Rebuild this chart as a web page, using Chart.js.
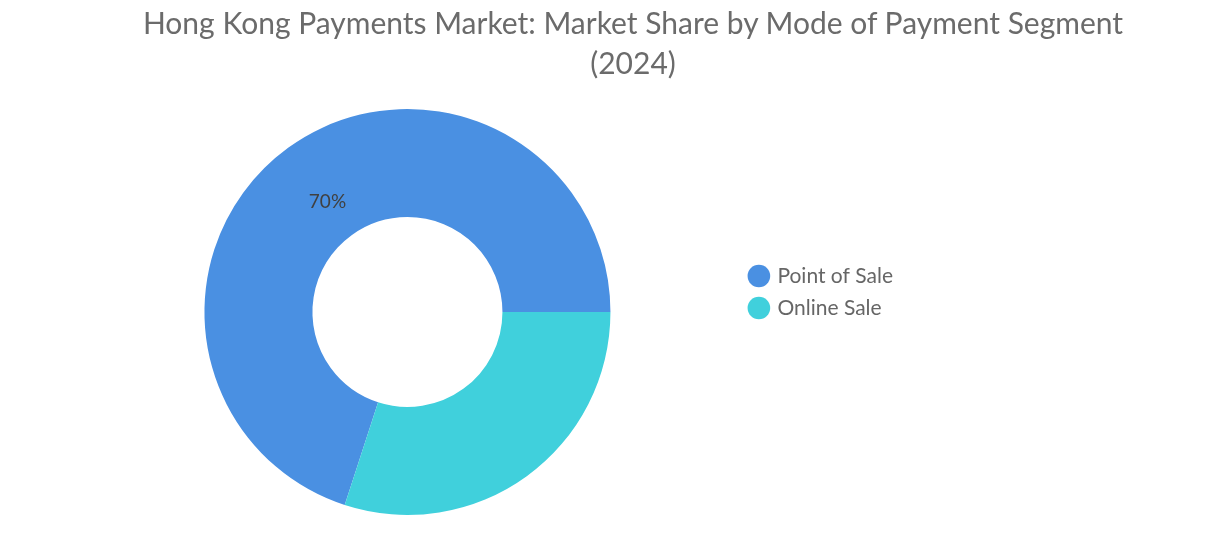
<!DOCTYPE html>
<html>
<head>
    <meta charset="utf-8">
    <title>Hong Kong Payments Market</title>
    <script src="https://cdn.jsdelivr.net/npm/chart.js@4.4.1/dist/chart.umd.min.js"></script>
    <style>
        html, body {
            margin: 0;
            padding: 0;
            background: #fff;
            overflow: hidden;
        }
        .wrap {
            position: relative;
            width: 1216px;
            height: 553px;
        }
        .chart-title {
            position: absolute;
            top: 2px;
            left: 50px;
            width: 1166px;
            text-align: center;
            font-family: Lato, sans-serif;
            font-size: 30px;
            line-height: 40px;
            color: #6b6b6b;
            z-index: 2;
        }
        #myChart {
            position: absolute;
            left: 0;
            top: 0;
        }
    </style>
</head>
<body>
    <div class="wrap">
        <div class="chart-title">Hong Kong Payments Market: Market Share by Mode of Payment Segment<br>(2024)</div>
        <canvas id="myChart" width="1216" height="553"></canvas>
    </div>
    <script>
        // data
        const segments = ['Point of Sale', 'Online Sale'];
        const shares = [70, 30];
        const segmentColors = ['#4a90e2', '#40d0dc'];

        // percent text inside the ring (reference only prints the big slice)
        const sliceLabels = {
            id: 'sliceLabels',
            afterDatasetsDraw(chart) {
                const ctx = chart.ctx;
                const meta = chart.getDatasetMeta(0);
                meta.data.forEach(function(arc, i) {
                    if (i !== 0) return;
                    const p = arc.getProps(['x', 'y', 'startAngle', 'endAngle', 'innerRadius', 'outerRadius'], true);
                    const mid = (p.startAngle + p.endAngle) / 2;
                    const r = p.innerRadius + (p.outerRadius - p.innerRadius) * 0.38;
                    ctx.save();
                    ctx.font = '19px Lato, sans-serif';
                    ctx.fillStyle = '#404040';
                    ctx.textAlign = 'center';
                    ctx.textBaseline = 'middle';
                    ctx.fillText(shares[i] + '%', p.x + Math.cos(mid) * r, p.y + Math.sin(mid) * r);
                    ctx.restore();
                });
            }
        };

        const ctx = document.getElementById('myChart').getContext('2d');
        const chart = new Chart(ctx, {
            type: 'doughnut',
            data: {
                labels: segments,
                datasets: [{
                    data: shares,
                    backgroundColor: segmentColors,
                    borderWidth: 0,
                    clip: false
                }]
            },
            options: {
                responsive: false,
                animation: false,
                devicePixelRatio: 1,
                rotation: 198,
                cutout: '46.8%',
                radius: 203,
                layout: {
                    padding: {left: 75, right: 313, top: 254.5, bottom: 183.5}
                },
                plugins: {
                    title: {display: false},
                    tooltip: {enabled: false},
                    legend: {
                        position: 'right',
                        align: 'start',
                        labels: {
                            usePointStyle: true,
                            pointStyle: 'circle',
                            boxWidth: 16,
                            boxHeight: 16,
                            padding: 11,
                            color: '#666',
                            font: {family: 'Lato, sans-serif', size: 21}
                        }
                    }
                }
            },
            plugins: [sliceLabels]
        });
    </script>
</body>
</html>
